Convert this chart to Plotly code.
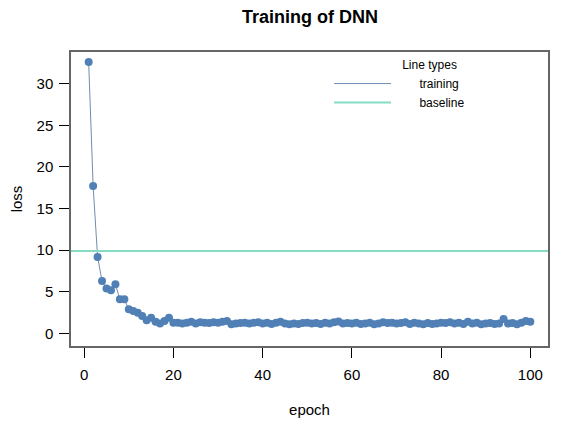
import plotly.graph_objects as go

# data
epoch = list(range(1, 101))
loss = [32.6, 17.7, 9.2, 6.3, 5.4, 5.2, 5.9, 4.1, 4.1, 2.9,
        2.7, 2.5, 2.1, 1.6, 1.9, 1.4, 1.2, 1.5, 1.9, 1.3,
        1.3, 1.2, 1.3, 1.4, 1.2, 1.35, 1.3, 1.25, 1.35, 1.3,
        1.4, 1.5, 1.1, 1.2, 1.25, 1.3, 1.2, 1.3, 1.35, 1.2,
        1.3, 1.15, 1.3, 1.4, 1.2, 1.1, 1.2, 1.15, 1.25, 1.3,
        1.2, 1.25, 1.15, 1.3, 1.2, 1.35, 1.45, 1.2, 1.25, 1.2,
        1.3, 1.15, 1.2, 1.3, 1.1, 1.2, 1.35, 1.25, 1.3, 1.2,
        1.25, 1.35, 1.15, 1.3, 1.2, 1.1, 1.25, 1.15, 1.2, 1.3,
        1.25, 1.35, 1.2, 1.3, 1.15, 1.4, 1.2, 1.3, 1.1, 1.2,
        1.25, 1.15, 1.2, 1.75, 1.2, 1.25, 1.1, 1.3, 1.5, 1.4]
baseline = 9.9

x_range = [-2.96, 103.96]
y_range = [-1.5, 33.8]

line_col = '#6f8db0'
point_col = '#5080b5'
base_col = '#86dcc3'

# gap between legend line and label, like R's legend()
pad_l = '\u00a0' * 7
pad_r = '\u00a0' * 18

fig = go.Figure()
# connecting line (legend entry "training")
fig.add_trace(go.Scatter(x=epoch, y=loss, mode='lines', name=pad_l + 'training' + pad_r,
                         line=dict(color=line_col, width=1)))
# points
fig.add_trace(go.Scatter(x=epoch, y=loss, mode='markers', showlegend=False,
                         marker=dict(color=point_col, size=8, line=dict(width=0))))
# baseline across the whole panel
fig.add_trace(go.Scatter(x=x_range, y=[baseline, baseline], mode='lines',
                         name=pad_l + 'baseline' + pad_r,
                         line=dict(color=base_col, width=2)))

axis_common = dict(showgrid=False, zeroline=False, showline=True, mirror=True,
                   linecolor='#666666', linewidth=1.5, automargin=False,
                   ticks='outside', ticklen=10, tickcolor='#000000', tickwidth=1,
                   tickfont=dict(size=15, color='#000000'))

fig.update_xaxes(range=x_range, tickvals=[0, 20, 40, 60, 80, 100],
                 ticklabelstandoff=4,
                 title=dict(text='epoch', font=dict(size=15, color='#000000'), standoff=23),
                 **axis_common)
fig.update_yaxes(range=y_range, tickvals=[0, 5, 10, 15, 20, 25, 30],
                 ticklabelstandoff=3,
                 title=dict(text='loss', font=dict(size=15, color='#000000'), standoff=34),
                 **axis_common)

# the page has an 8px body margin, so the figure is a bit smaller than the window
fig.update_layout(
    width=556, height=416,
    margin=dict(l=63, r=16, t=44, b=78),
    paper_bgcolor='white', plot_bgcolor='white',
    font=dict(family='Liberation Sans, Arial, sans-serif', color='#000000'),
    title=dict(text='<b>Training of DNN</b>', x=0.543, xanchor='center',
               y=0.979, yanchor='middle', font=dict(size=18)),
    legend=dict(x=0.541, y=0.995, xanchor='left', yanchor='top',
                bgcolor='rgba(0,0,0,0)', itemwidth=57, tracegroupgap=0,
                font=dict(size=12),
                title=dict(text='Line types', side='top center', font=dict(size=12))),
)

fig.write_html("out.html")
